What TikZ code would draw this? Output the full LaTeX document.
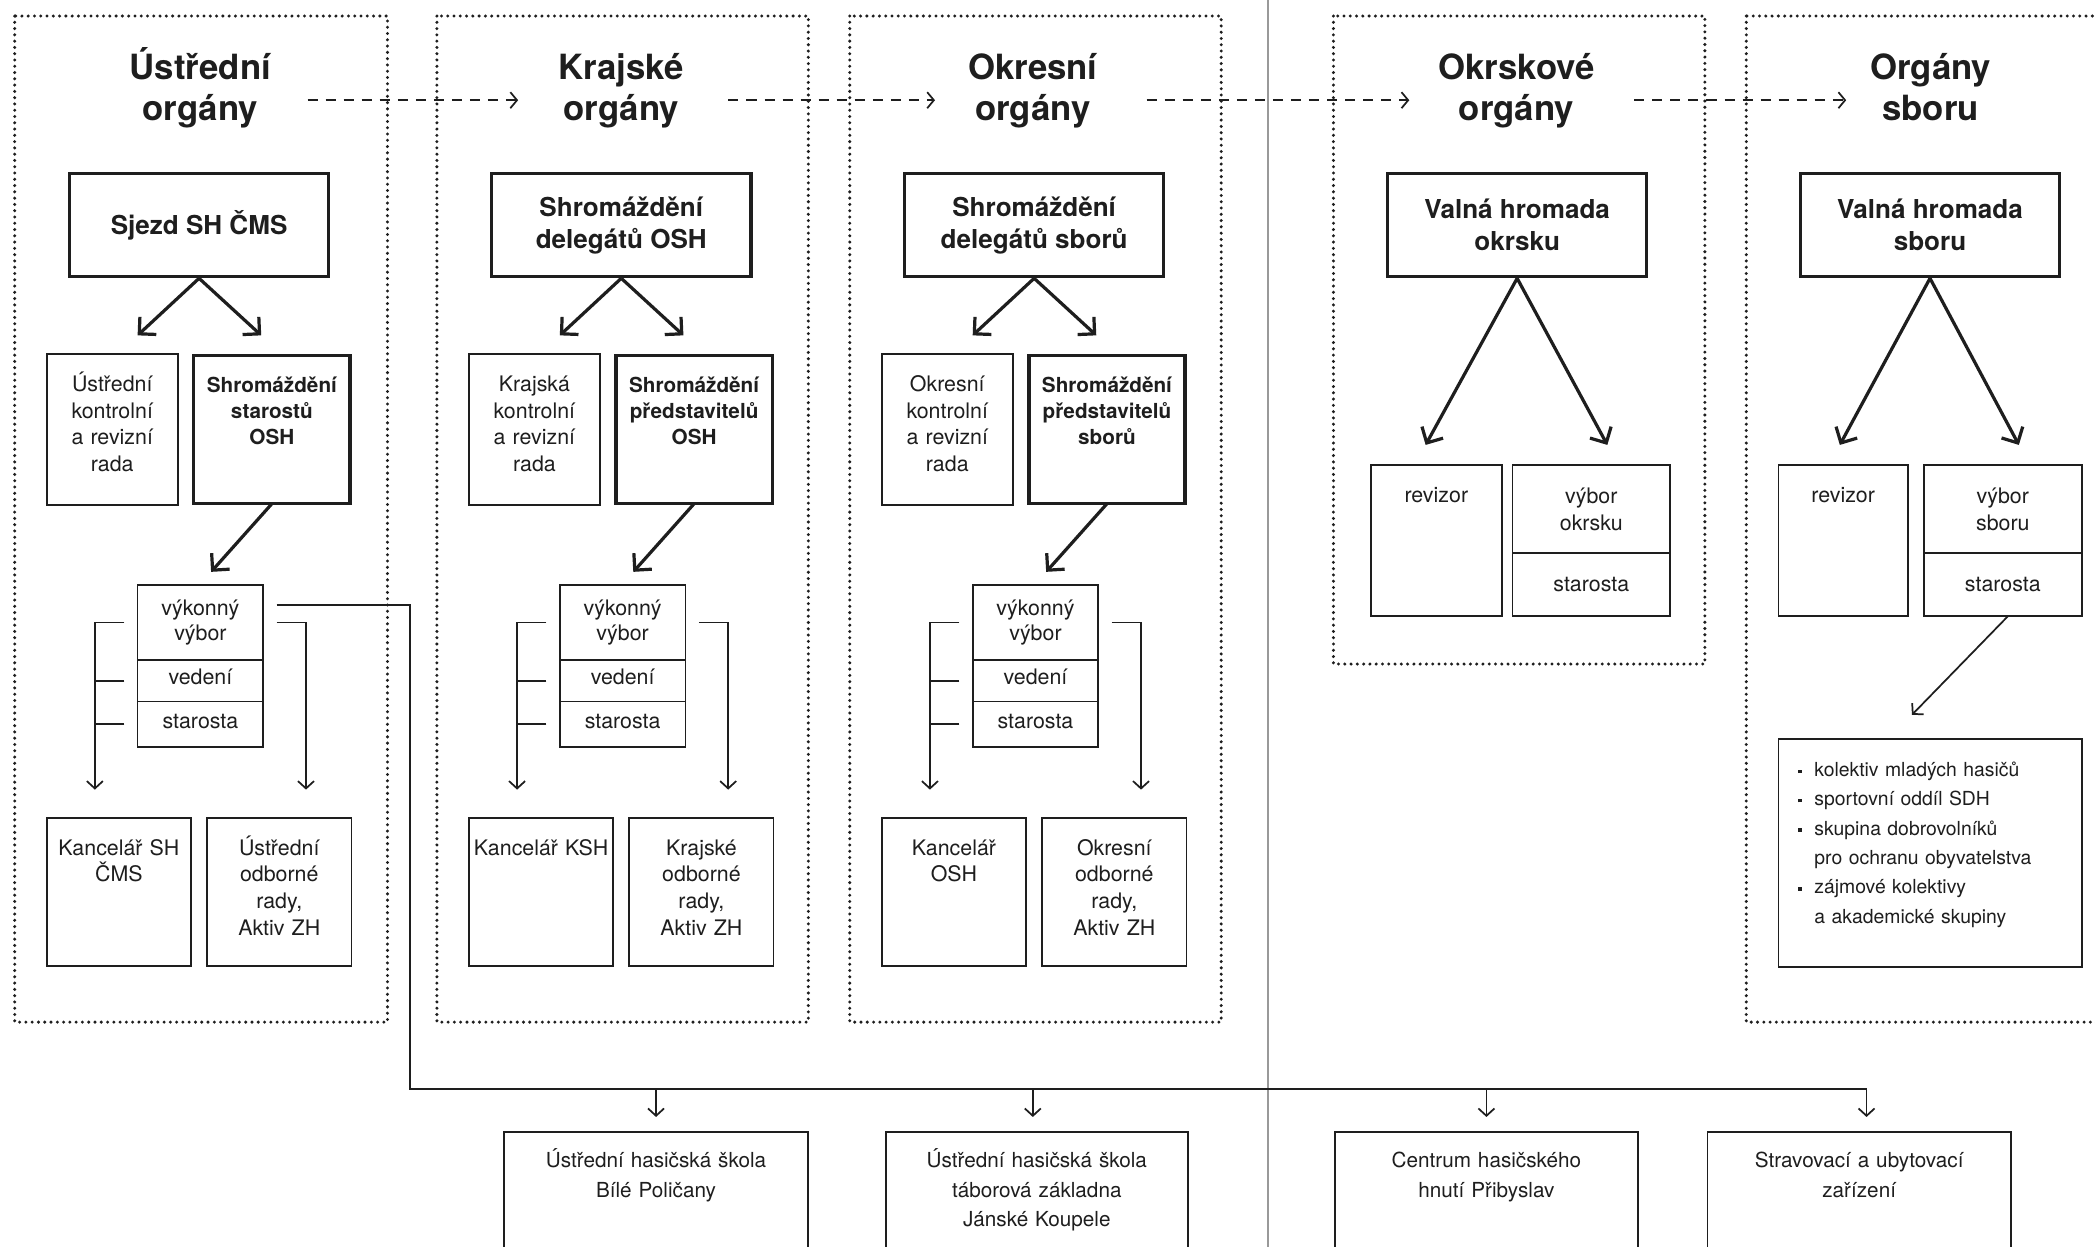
\documentclass[tikz,border=0pt]{standalone}
\usepackage{fontspec}
\setmainfont{TeX Gyre Heros}
\usetikzlibrary{arrows.meta,positioning}
\definecolor{ink}{HTML}{1E1E1E}
\newcommand{\sqbul}{\makebox[12pt][l]{\raisebox{2.4pt}{\rule{2.6pt}{2.6pt}}}}

\begin{document}
\begin{tikzpicture}[x=1pt,y=-1pt,color=ink,
    head/.style={font=\fontsize{26}{31}\selectfont\bfseries,align=center,text width=160pt,
                 text height=22pt,text depth=35pt,inner sep=0pt},
    frame/.style={line width=2.5pt,dash pattern=on 0pt off 4.7pt,line cap=round},
    mainbox/.style={draw,line width=2.6pt,minimum width=194pt,minimum height=77pt,align=center,
                    font=\fontsize{19.5}{24}\selectfont\bfseries},
    cell/.style={draw,line width=1.3pt,inner sep=0pt,outer sep=0pt,align=center,
                 font=\fontsize{16}{20}\selectfont},
    boldcell/.style={cell,line width=2.6pt,font=\fontsize{15.5}{19.5}\selectfont\bfseries},
    tall/.style 2 args={text width=#1,text height=28pt,text depth=#2},
    vvcell/.style={cell,text width=94pt,font=\fontsize{16}{19}\selectfont},
    lowcell/.style={vvcell,text height=11pt,text depth=5pt},
    basecell/.style={cell,text width=#1,text height=27pt,text depth=110pt,
                     font=\fontsize{15.5}{22}\selectfont,anchor=north west},
    bigarrow/.style={line width=2.4pt,-{Straight Barb[length=9pt,width=18pt]}},
    thinarrow/.style={line width=1.3pt,-{Straight Barb[length=5.5pt,width=12pt]}},
    wire/.style={line width=1.3pt},
    flow/.style={line width=1.3pt,dash pattern=on 7.5pt off 6pt,-{Straight Barb[length=5pt,width=12pt]}}]

  \fill[white] (0,0) rectangle (1568,933);
  \useasboundingbox (0,0) rectangle (1568,933);

  \draw[frame] (11,12) rectangle (290,765);
  \draw[frame] (327,12) rectangle (605,765);
  \draw[frame] (636,12) rectangle (914,765);
  \draw[frame] (998,12) rectangle (1276,497);
  \draw[frame] (1307,12) rectangle (1600,765);
  \draw[line width=0.8pt,gray!80] (949,-5) -- (949,940);

  % headings
  \node[head] (hUstr) at (150,66) {Ústřední\\orgány};
  \node[head] (hKraj) at (465,66) {Krajské\\orgány};
  \node[head] (hOkr) at (773,66) {Okresní\\orgány};
  \node[head] (hOkrsek) at (1135,66) {Okrskové\\orgány};
  \node[head] (hSbor) at (1445,66) {Orgány\\sboru};

  \draw[flow] ([yshift=-9pt]hUstr.east) -- ([yshift=-9pt,xshift=3pt]hKraj.west);
  \draw[flow] ([yshift=-9pt]hKraj.east) -- ([yshift=-9pt,xshift=7pt]hOkr.west);
  \draw[flow] ([yshift=-9pt,xshift=5pt]hOkr.east) -- ([yshift=-9pt]hOkrsek.west);
  \draw[flow] ([yshift=-9pt,xshift=8pt]hOkrsek.east) -- ([yshift=-9pt,xshift=17pt]hSbor.west);

  % ustredni organy
  \node[mainbox] (sjezd) at (149,168.5) {Sjezd SH ČMS};
  \node[cell,tall={98pt}{85pt},anchor=north west] (ukrr) at (35,265) {Ústřední\\kontrolní\\a revizní\\rada};
  \node[boldcell,tall={117pt}{83pt},anchor=north west] (ustar) at (145,266) {Shromáždění\\starostů\\OSH};
  \node[vvcell,minimum height=56pt,anchor=north west] (uvv1) at (103,438) {výkonný\\výbor};
  \node[lowcell,minimum height=31pt,below=0pt of uvv1] (uvv2) {vedení};
  \node[lowcell,minimum height=34pt,below=0pt of uvv2] (uvv3) {starosta};
  \node[cell,tall={108pt}{83pt},anchor=north west] (ukanc) at (35,612) {Kancelář SH\\ČMS};
  \node[cell,tall={108pt}{83pt},anchor=north west] (uodb) at (155,612) {Ústřední\\odborné\\rady,\\Aktiv ZH};

  \path[bigarrow] (sjezd.south) edge ([xshift=19pt,yshift=14pt]ukrr.north)
                                edge ([xshift=-8pt,yshift=15pt]ustar.north);
  \path[bigarrow] (ustar.south) edge ([xshift=8pt,yshift=10pt]uvv1.north);
  \draw[thinarrow] ([xshift=-10pt]uvv1.west) -| ([xshift=-18pt,yshift=21pt]ukanc.north);
  \draw[wire] ([xshift=-10pt]uvv2.west) -- ([xshift=-32pt]uvv2.west);
  \draw[wire] ([xshift=-10pt]uvv3.west) -- ([xshift=-32pt]uvv3.west);
  \draw[thinarrow] ([xshift=10pt]uvv1.east) -| ([xshift=20pt,yshift=21pt]uodb.north);

  % krajske organy
  \node[mainbox] (kshrom) at (465,168.5) {Shromáždění\\delegátů OSH};
  \node[cell,tall={98pt}{85pt},anchor=north west] (kkrr) at (351,265) {Krajská\\kontrolní\\a revizní\\rada};
  \node[boldcell,tall={117pt}{83pt},anchor=north west] (kpred) at (461,266) {Shromáždění\\představitelů\\OSH};
  \node[vvcell,minimum height=56pt,anchor=north west] (kvv1) at (419,438) {výkonný\\výbor};
  \node[lowcell,minimum height=31pt,below=0pt of kvv1] (kvv2) {vedení};
  \node[lowcell,minimum height=34pt,below=0pt of kvv2] (kvv3) {starosta};
  \node[cell,tall={108pt}{83pt},anchor=north west] (kkanc) at (351,612) {Kancelář KSH};
  \node[cell,tall={108pt}{83pt},anchor=north west] (kodb) at (471,612) {Krajské\\odborné\\rady,\\Aktiv ZH};

  \path[bigarrow] (kshrom.south) edge ([xshift=19pt,yshift=14pt]kkrr.north)
                                 edge ([xshift=-8pt,yshift=15pt]kpred.north);
  \path[bigarrow] (kpred.south) edge ([xshift=8pt,yshift=10pt]kvv1.north);
  \draw[thinarrow] ([xshift=-10pt]kvv1.west) -| ([xshift=-18pt,yshift=21pt]kkanc.north);
  \draw[wire] ([xshift=-10pt]kvv2.west) -- ([xshift=-32pt]kvv2.west);
  \draw[wire] ([xshift=-10pt]kvv3.west) -- ([xshift=-32pt]kvv3.west);
  \draw[thinarrow] ([xshift=10pt]kvv1.east) -| ([xshift=20pt,yshift=21pt]kodb.north);

  % okresni organy
  \node[mainbox] (oshrom) at (774,168.5) {Shromáždění\\delegátů sborů};
  \node[cell,tall={98pt}{85pt},anchor=north west] (okrr) at (660,265) {Okresní\\kontrolní\\a revizní\\rada};
  \node[boldcell,tall={117pt}{83pt},anchor=north west] (opred) at (770,266) {Shromáždění\\představitelů\\sborů};
  \node[vvcell,minimum height=56pt,anchor=north west] (ovv1) at (728,438) {výkonný\\výbor};
  \node[lowcell,minimum height=31pt,below=0pt of ovv1] (ovv2) {vedení};
  \node[lowcell,minimum height=34pt,below=0pt of ovv2] (ovv3) {starosta};
  \node[cell,tall={108pt}{83pt},anchor=north west] (okanc) at (660,612) {Kancelář\\OSH};
  \node[cell,tall={108pt}{83pt},anchor=north west] (oodb) at (780,612) {Okresní\\odborné\\rady,\\Aktiv ZH};

  \path[bigarrow] (oshrom.south) edge ([xshift=19pt,yshift=14pt]okrr.north)
                                 edge ([xshift=-8pt,yshift=15pt]opred.north);
  \path[bigarrow] (opred.south) edge ([xshift=8pt,yshift=10pt]ovv1.north);
  \draw[thinarrow] ([xshift=-10pt]ovv1.west) -| ([xshift=-18pt,yshift=21pt]okanc.north);
  \draw[wire] ([xshift=-10pt]ovv2.west) -- ([xshift=-32pt]ovv2.west);
  \draw[wire] ([xshift=-10pt]ovv3.west) -- ([xshift=-32pt]ovv3.west);
  \draw[thinarrow] ([xshift=10pt]ovv1.east) -| ([xshift=20pt,yshift=21pt]oodb.north);

  % okrskove organy
  \node[mainbox] (vhokr) at (1135.5,168.5) {Valná hromada\\okrsku};
  \node[cell,tall={98pt}{85pt},anchor=north west] (rev4) at (1026,348) {revizor};
  \node[cell,text width=118pt,minimum height=66pt,anchor=north west] (vyb4) at (1132,348) {výbor\\okrsku};
  \node[cell,text width=118pt,minimum height=47pt,below=0pt of vyb4] (st4) {starosta};
  \path[bigarrow] (vhokr.south) edge ([xshift=-8pt,yshift=15pt]rev4.north)
                                edge ([xshift=12pt,yshift=15pt]vyb4.north);

  % organy sboru
  \node[mainbox] (vhsb) at (1444.5,168.5) {Valná hromada\\sboru};
  \node[cell,tall={97pt}{85pt},anchor=north west] (rev5) at (1331,348) {revizor};
  \node[cell,text width=118pt,minimum height=66pt,anchor=north west] (vyb5) at (1440,348) {výbor\\sboru};
  \node[cell,text width=118pt,minimum height=47pt,below=0pt of vyb5] (st5) {starosta};
  \node[cell,anchor=north west,align=left,inner xsep=15pt,text width=197pt,text height=28pt,text depth=143pt,
        font=\fontsize{14.5}{22}\selectfont] (kolekt) at (1331,553)
       {\sqbul kolektiv mladých hasičů\\
        \sqbul sportovní oddíl SDH\\
        \sqbul skupina dobrovolníků\\
        \hspace*{12pt}pro ochranu obyvatelstva\\
        \sqbul zájmové kolektivy\\
        \hspace*{12pt}a akademické skupiny};
  \path[bigarrow] (vhsb.south) edge ([xshift=-2.5pt,yshift=15pt]rev5.north)
                               edge ([xshift=12pt,yshift=15pt]vyb5.north);
  \path[thinarrow] ([xshift=4pt]st5.south) edge ([xshift=-13.5pt,yshift=18pt]kolekt.north);

  % zarizeni
  \node[basecell=228pt] (skola1) at (377,847) {Ústřední hasičská škola\\Bílé Poličany};
  \node[basecell=226pt] (skola2) at (663,847) {Ústřední hasičská škola\\táborová základna\\Jánské Koupele};
  \node[basecell=227pt] (centrum) at (999,847) {Centrum hasičského\\hnutí Přibyslav};
  \node[basecell=227pt] (zariz) at (1278,847) {Stravovací a ubytovací\\zařízení};

  \coordinate (bus) at (307,815);
  \draw[thinarrow] ([xshift=10pt,yshift=13pt]uvv1.east) -| (bus) -| ([xshift=5.5pt,yshift=11pt]zariz.north);
  \draw[thinarrow] (bus -| skola1.north) -- ([yshift=11pt]skola1.north);
  \draw[thinarrow] ([xshift=-3pt]bus -| skola2.north) -- ([xshift=-3pt,yshift=11pt]skola2.north);
  \draw[thinarrow] (bus -| centrum.north) -- ([yshift=11pt]centrum.north);
\end{tikzpicture}
\end{document}
